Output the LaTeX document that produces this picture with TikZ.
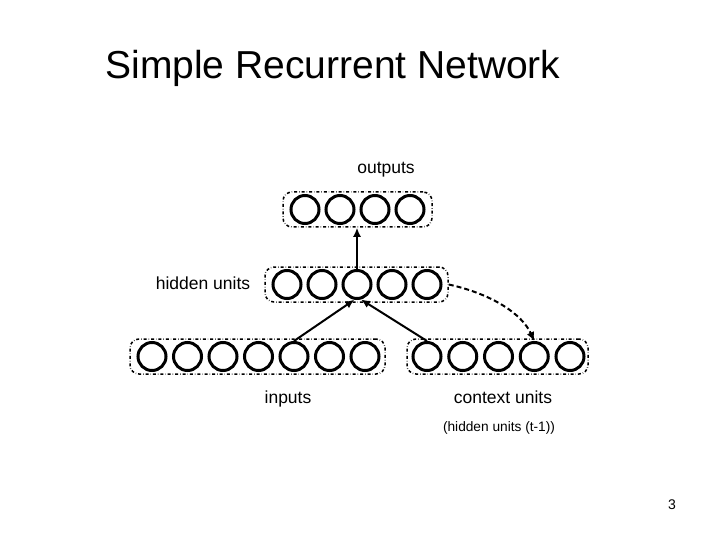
\documentclass[tikz,border=0pt]{standalone}
\usepackage{fontspec}
\setmainfont{Liberation Sans}
\tikzset{
	unit/.style = {circle, draw, line width=3pt, minimum size=28pt, inner sep=0pt},
	layer/.style = {draw, dashdotted, rounded corners=9pt, line width=1.5pt,
		minimum height=35pt, inner sep=0pt},
	lbl/.style = {font=\fontsize{17.5}{21}\selectfont},
	link/.style = {line width=2pt, -{Latex[length=9pt,width=8pt]}}
}
\usetikzlibrary{arrows.meta}
\begin{document}
\begin{tikzpicture}[x=1pt,y=-1pt]
		\useasboundingbox (0,0) rectangle (720,540);
		\node[font=\fontsize{39}{46}\selectfont] (title) at (333,68)
			{Simple Recurrent Network};
		
		% layers
		\node[layer, minimum width=149pt] (outlayer) at (357.5,209.5) {};
		\node[layer, minimum width=183pt] (hidlayer) at (356.5,284.5) {};
		\node[layer, minimum width=255pt] (inlayer) at (257.5,356.5) {};
		\node[layer, minimum width=181pt] (ctxlayer) at (497.5,356.5) {};
		
		% units
		\foreach \i in {1,...,4}
			\node[unit] (o\i) at (305+35*\i-35,209.5) {};
		\foreach \i in {1,...,5}
			\node[unit] (h\i) at (287+35*\i-35,284.5) {};
		\foreach \i in {1,...,7}
			\node[unit] (in\i) at (152+35.5*\i-35.5,356.5) {};
		\foreach \i in {1,...,5}
			\node[unit] (c\i) at (427+35.75*\i-35.75,356.5) {};
		
		% labels
		\node[lbl] (outlbl) at (386,170) {outputs};
		\node[lbl] (hidlbl) at (203,283) {hidden units};
		\node[lbl, anchor=base] (inlbl) at (288,403) {inputs};
		\node[lbl, anchor=base] (ctxlbl) at (503,403) {context units};
		\node[font=\fontsize{13.7}{16}\selectfont] (ctxnote) at (499,428)
			{(hidden units (t-1))};
		
		\node[font=\fontsize{14}{17}\selectfont] (page) at (672,505) {3};
		
		% connections
		\draw[link] (h3.north) -- (h3.north |- outlayer.south);
		\draw[link] (in5.north) -- (h3.-100);
		\draw[link] (c1.north) -- (h3.-75);
		\draw[link, dash pattern=on 5pt off 3pt] (hidlayer.east)
			.. controls (492,294) and (522,314) .. (c4.north);
	\end{tikzpicture}
\end{document}
